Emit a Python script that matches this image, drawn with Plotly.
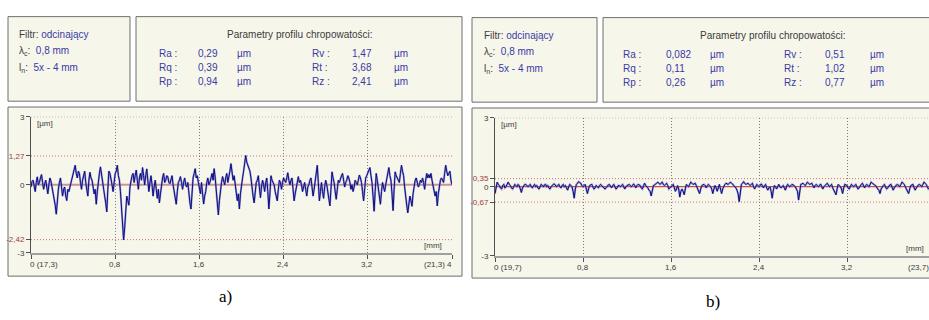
import plotly.graph_objects as go

# ---------------- data ----------------
STEP = 0.01  # sampling step of the profiles [mm]

profile_a = [
    -0.1, 0.15, 0.2, -0.1, -0.3, 0.1, 0.35, 0.0, 0.1, 0.3, 0.45, 0.1, -0.2, 0.05, 0.2, -0.1, -0.4, 0.0, 0.3, 0.15,
    -0.1, -0.3, -0.6, -0.9, -1.3, -0.6, -0.2, 0.1, 0.3, -0.1, -0.5, -0.2, -0.1, -0.5, -0.7, -0.2, -0.3, -0.1, 0.1, 0.35,
    0.5, 0.7, 0.86, 0.5, 0.3, 0.6, 0.5, 0.1, -0.2, 0.2, 0.4, 0.6, 0.1, -0.3, -0.5, 0.2, 0.55, 0.3, 0.2, -0.1,
    -0.4, -0.2, -0.86, -0.3, 0.2, 0.5, 0.79, 0.4, 0.1, -0.3, -0.5, -0.8, -1.2, -0.2, 0.6, 0.5, 0.3, 0.0, -0.3, 0.2,
    0.5, 0.6, 0.86, 0.4, 0.2, -0.3, -0.9, -1.5, -2.43, -1.9, -1.2, -0.5, -0.7, -0.9, -0.1, 0.2, 0.4, 0.5, 0.1, 0.4,
    0.65, 0.2, -0.2, 0.3, 0.5, 0.2, 0.76, 0.4, 0.0, 0.4, 0.7, 0.2, -0.3, 0.1, 0.4, 0.0, -0.5, -0.1, 0.2, -0.2,
    -0.6, -0.2, -0.8, -0.4, 0.1, 0.3, 0.5, 0.1, 0.2, 0.4, 0.35, 0.1, 0.05, 0.3, 0.4, 0.0, -0.3, -0.5, -0.86, -0.3,
    0.1, 0.2, 0.36, 0.1, -0.2, 0.1, 0.3, 0.0, -0.1, 0.1, -0.5, -0.8, -1.07, -0.3, 0.3, 0.5, 0.71, 0.3, 0.4, 0.1,
    -0.2, -0.4, 0.1, -0.3, -0.85, -0.5, -0.3, 0.1, 0.3, 0.0, 0.1, 0.3, 0.5, 0.2, 0.71, 0.3, -0.4, -0.9, -1.33, -0.7,
    -0.2, 0.1, 0.36, 0.2, 0.0, 0.3, 0.5, 0.1, 0.3, 0.6, 0.93, 0.5, 0.2, 0.4, 0.1, -0.2, -0.7, -0.4, -1.07, -0.4,
    0.1, 0.3, 0.6, 0.9, 1.29, 1.0, 0.86, 0.7, 0.6, 0.3, -0.2, -0.5, -0.8, -0.3, 0.1, 0.2, 0.4, -0.1, -0.57, -0.1,
    0.2, 0.0, -0.3, 0.1, 0.3, -0.3, -1.07, -0.4, 0.4, 0.2, 0.1, 0.0, -0.3, -0.5, -0.71, -0.2, 0.2, 0.1, -0.2, 0.1,
    0.3, 0.2, 0.1, 0.3, 0.53, 0.2, 0.0, 0.2, 0.3, -0.2, -0.71, -0.4, -0.1, 0.2, 0.36, 0.1, 0.2, 0.0, -0.3, -0.1,
    0.1, -0.2, -0.5, -0.1, 0.0, 0.2, 0.3, -0.1, -0.5, -0.2, 0.2, 0.5, 0.86, 0.1, -0.71, -0.3, 0.1, -0.3, -0.6, -0.1,
    0.2, 0.0, -0.3, -0.6, -0.93, -0.2, 0.57, 0.3, 0.1, -0.3, -0.64, -0.2, 0.2, 0.1, 0.3, 0.4, 0.5, 0.2, -0.1, 0.1,
    0.2, 0.4, 0.3, 0.1, -0.2, 0.0, -0.3, -0.1, 0.2, 0.1, 0.0, 0.2, 0.43, 0.3, 0.1, -0.3, -0.71, -0.2, 0.3, 0.4,
    0.5, 0.6, 0.76, 0.4, 0.1, -0.5, -1.17, -0.3, 0.5, 0.2, -0.2, -0.5, -0.86, -0.3, 0.1, -0.1, -0.3, 0.0, 0.3, 0.5,
    0.76, 0.4, 0.2, -0.4, -1.14, -0.2, 0.57, 0.4, 0.3, 0.2, 0.1, 0.5, 0.86, 0.6, 0.4, -0.1, -0.6, -0.9, -1.24, -0.8,
    -0.5, -0.7, -0.95, -0.4, 0.0, 0.2, 0.3, 0.1, -0.1, 0.0, 0.2, 0.1, 0.3, 0.1, -0.2, 0.2, 0.5, 0.3, 0.45, 0.3,
    0.5, 0.2, 0.0, -0.2, -0.5, -0.3, -0.93, -0.4, 0.0, 0.2, 0.3, 0.2, 0.1, 0.5, 0.86, 0.6, 0.4, 0.5, 0.6, 0.2,
    0.0,
]

profile_b = [
    -0.3, 0.0, 0.2, 0.1, 0.05, -0.05, -0.1, 0.05, 0.1, -0.05, 0.0, 0.1, 0.2, 0.1, 0.05, -0.05, -0.1, 0.0, 0.1, 0.05,
    0.0, 0.1, 0.05, -0.1, -0.25, -0.05, 0.05, 0.1, 0.1, 0.05, 0.0, 0.05, 0.1, 0.0, -0.05, 0.05, 0.1, 0.0, 0.05, -0.05,
    -0.1, 0.0, 0.1, 0.05, 0.0, 0.08, 0.1, 0.0, 0.05, -0.05, -0.1, 0.0, 0.08, 0.1, 0.12, 0.05, 0.0, 0.05, 0.1, 0.0,
    -0.05, 0.05, 0.1, 0.0, 0.05, -0.05, -0.15, 0.0, 0.1, 0.05, 0.0, -0.2, -0.5, -0.1, 0.1, 0.15, 0.22, 0.18, 0.15, 0.05,
    0.0, 0.05, 0.1, -0.1, -0.3, -0.1, 0.05, 0.08, 0.1, 0.0, -0.1, -0.05, 0.05, 0.0, -0.05, 0.05, 0.1, 0.05, 0.0, -0.05,
    -0.1, -0.05, 0.05, 0.08, 0.1, 0.0, -0.05, 0.05, 0.1, 0.0, -0.1, -0.05, 0.05, 0.05, 0.0, 0.05, 0.1, 0.0, -0.1, 0.0,
    0.05, 0.08, 0.1, 0.05, 0.0, 0.05, 0.12, 0.05, -0.05, 0.05, 0.1, 0.08, 0.05, -0.05, -0.1, 0.05, 0.15, 0.05, 0.0, -0.05,
    -0.15, -0.2, -0.4, -0.1, 0.05, 0.08, 0.1, 0.15, 0.2, 0.15, 0.1, 0.15, 0.2, 0.1, 0.05, 0.1, 0.15, 0.05, -0.1, -0.05,
    0.0, 0.05, 0.1, -0.05, -0.2, -0.1, 0.05, -0.1, -0.45, -0.2, -0.1, -0.2, -0.35, -0.1, 0.1, 0.05, 0.0, 0.1, 0.2, 0.15,
    0.1, 0.12, 0.15, 0.05, -0.1, -0.15, -0.3, -0.1, 0.05, 0.08, 0.1, 0.05, -0.05, 0.05, 0.1, 0.05, 0.0, -0.1, -0.3, -0.1,
    0.05, -0.05, -0.2, -0.05, 0.1, -0.1, -0.3, -0.1, 0.05, 0.1, 0.15, 0.12, 0.1, 0.15, 0.2, 0.15, 0.12, 0.05, 0.0, -0.05,
    -0.15, -0.3, -0.65, -0.2, 0.1, 0.15, 0.22, 0.15, 0.1, 0.12, 0.15, 0.1, 0.05, 0.1, 0.15, 0.0, -0.1, 0.0, 0.1, 0.05,
    0.0, 0.05, 0.12, 0.05, -0.05, 0.05, 0.1, -0.05, -0.15, -0.05, 0.0, -0.2, -0.5, -0.15, 0.05, 0.0, -0.1, 0.0, 0.1, 0.0,
    -0.05, 0.0, 0.05, -0.05, -0.15, 0.0, 0.1, 0.05, 0.0, 0.05, 0.1, 0.08, 0.05, 0.0, -0.1, -0.2, -0.58, -0.15, 0.1, 0.12,
    0.15, 0.1, 0.05, 0.12, 0.2, 0.15, 0.1, 0.12, 0.15, 0.05, -0.05, 0.05, 0.1, 0.05, 0.0, 0.05, 0.12, 0.0, -0.1, 0.0,
    0.05, 0.1, 0.15, 0.08, 0.0, 0.05, 0.1, -0.05, -0.15, -0.2, -0.35, -0.1, 0.1, 0.05, 0.0, -0.1, -0.3, -0.05, 0.1, 0.08,
    0.05, -0.05, -0.1, 0.0, 0.1, 0.05, 0.0, 0.05, 0.1, 0.0, -0.1, -0.05, 0.05, 0.1, 0.15, 0.05, -0.05, 0.05, 0.1, 0.05,
    0.0, 0.1, 0.2, 0.15, 0.1, 0.08, 0.05, -0.05, -0.1, -0.15, -0.3, -0.1, 0.0, 0.05, 0.1, 0.0, -0.1, -0.05, 0.05, 0.08,
    0.1, -0.05, -0.15, -0.05, 0.05, 0.08, 0.1, 0.05, 0.0, 0.1, 0.2, 0.15, 0.1, 0.0, -0.1, -0.15, -0.3, -0.1, 0.05, 0.08,
    0.1, -0.05, -0.15, -0.05, 0.05, 0.08, 0.1, 0.05, 0.0, 0.1, 0.2, 0.15, 0.1, 0.0, -0.1, -0.05, 0.05, 0.08, 0.1, 0.05,
    0.0,
]

x_a = [round(STEP * i, 2) for i in range(len(profile_a))]
x_b = [round(STEP * i, 2) for i in range(len(profile_b))]

x_ticks = [0, 0.8, 1.6, 2.4, 3.2, 4.0]
x_ticklabels_a = ["0 (17,3)", "0,8", "1,6", "2,4", "3,2", "(21,3) 4"]
x_ticklabels_b = ["0 (19,7)", "0,8", "1,6", "2,4", "3,2", "(23,7) 4"]

ref_lines_a = [1.27, -2.42]     # upper / lower reference lines
ref_labels_a = ["1,27", "-2,42"]
ref_lines_b = [0.35, -0.67]
ref_labels_b = ["0,35", "-0,67"]

filter_name = "odcinający"
lambda_c = "0,8 mm"
l_n = "5x - 4 mm"

param_names_left = ["Ra :", "Rq :", "Rp :"]
param_names_right = ["Rv :", "Rt :", "Rz :"]
params_a_left = ["0,29", "0,39", "0,94"]
params_a_right = ["1,47", "3,68", "2,41"]
params_b_left = ["0,082", "0,11", "0,26"]
params_b_right = ["0,51", "1,02", "0,77"]
unit = "µm"

# ---------------- styling ----------------
W, H = 929, 320
CREAM = "#f6f6ea"
BORDER = "#6e6e6e"
BLUE_TXT = "#3a3aa6"
GRAY_TXT = "#3c3c3c"
RED_TXT = "#a03c3c"
FONT = "Liberation Sans, Arial, sans-serif"
DOT = "1px,2px"


def px(x):
    return x / W


def py(y):
    return 1 - y / H


fig = go.Figure()

panels = [
    dict(x=x_a, y=profile_a, xa="x", ya="y", refs=ref_lines_a, reflab=ref_labels_a,
         xlab=x_ticklabels_a, zero_col="#c89494", zero_w=2,
         xdom=[px(31), px(452)], xr=[0, 4], ydom=[py(256), py(116)],
         x0px=31, mmpx=105.0, xlab_y=268,
         frame=(8, 106, 462, 280), box1=(8, 13, 130, 100), box2=(136, 13, 462, 100),
         txt_x=17, rows_y=(31, 48, 66),
         title_x=300, title_y=31, prow_y=(51, 65, 80),
         cols=(157, 196, 235, 310, 350, 392),
         pl=params_a_left, pr=params_a_right),
    dict(x=x_b, y=profile_b, xa="x2", ya="y2", refs=ref_lines_b, reflab=ref_labels_b,
         xlab=x_ticklabels_b, zero_col="#c02020", zero_w=1,
         xdom=[px(495), 1.0], xr=[0, (929 - 495) / 110.0], ydom=[py(259), py(117)],
         x0px=495, mmpx=110.0, xlab_y=271,
         frame=(472, 107, 940, 282), box1=(472, 14, 597, 101), box2=(603, 14, 940, 101),
         txt_x=482, rows_y=(32, 49, 67),
         title_x=773, title_y=32, prow_y=(52, 66, 81),
         cols=(621, 664, 708, 782, 823, 868),
         pl=params_b_left, pr=params_b_right),
]

shapes = []
annotations = []

for i, p in enumerate(panels):
    sfx = "" if i == 0 else "2"
    # frames and boxes (paper)
    for (x0, y0, x1, y1) in (p["frame"], p["box1"], p["box2"]):
        shapes.append(dict(type="rect", xref="paper", yref="paper",
                           x0=px(x0), x1=px(x1), y0=py(y1), y1=py(y0),
                           fillcolor=CREAM, line=dict(color=BORDER, width=1),
                           layer="below"))
    # top dotted grid line at y=3
    shapes.append(dict(type="line", xref=p["xa"], yref=p["ya"], x0=0, x1=4, y0=3, y1=3,
                       line=dict(color="#7c7c7c", width=1, dash=DOT), layer="below"))
    # reference lines
    for v in p["refs"]:
        shapes.append(dict(type="line", xref=p["xa"], yref=p["ya"], x0=0, x1=4, y0=v, y1=v,
                           line=dict(color="#c87070", width=1, dash=DOT), layer="below"))
    # zero (mean) line
    shapes.append(dict(type="line", xref=p["xa"], yref=p["ya"], x0=0, x1=4, y0=0, y1=0,
                       line=dict(color=p["zero_col"], width=p["zero_w"]), layer="below"))

    # profile traces (soft halo + dark line)
    fig.add_trace(go.Scatter(x=p["x"], y=p["y"], mode="lines", xaxis=p["xa"], yaxis=p["ya"],
                             line=dict(color="rgba(120,120,200,0.7)", width=2.0),
                             hoverinfo="skip", showlegend=False))
    fig.add_trace(go.Scatter(x=p["x"], y=p["y"], mode="lines", xaxis=p["xa"], yaxis=p["ya"],
                             line=dict(color="#0c0c84", width=1),
                             showlegend=False))

    yticks = [3, p["refs"][0], 0, p["refs"][1], -3]
    ytext = ["3", '<span style="color:%s">%s</span>' % (RED_TXT, p["reflab"][0]), "0",
             '<span style="color:%s">%s</span>' % (RED_TXT, p["reflab"][1]), "-3"]

    fig.update_layout(**{
        "xaxis" + sfx: dict(domain=p["xdom"], range=p["xr"], anchor="y" + sfx,
                            tickvals=x_ticks, showticklabels=False, ticks="outside",
                            ticklen=4, tickcolor="#505050", tickwidth=1,
                            showline=True, linecolor="#a0a0a0", linewidth=2,
                            showgrid=True, gridcolor="#7c7c7c", griddash=DOT, gridwidth=1,
                            zeroline=False, fixedrange=True),
        "yaxis" + sfx: dict(domain=p["ydom"], range=[-3, 3], anchor="x" + sfx,
                            tickvals=yticks, ticktext=ytext, ticks="outside", ticklen=4,
                            tickcolor="#505050", showline=True, linecolor="#505050",
                            linewidth=1, showgrid=False, zeroline=False,
                            tickfont=dict(family=FONT, size=8, color=GRAY_TXT),
                            fixedrange=True),
    })

    # x tick labels (paper positions derived from the axis scale of each panel)
    for k, (xv, lab) in enumerate(zip(x_ticks, p["xlab"])):
        if k == 0:
            anc, sh = "left", -3
        elif k == len(x_ticks) - 1:
            anc, sh = "right", 3
        else:
            anc, sh = "center", 0
        annotations.append(dict(x=px(p["x0px"] + xv * p["mmpx"]), y=py(p["xlab_y"]),
                                xref="paper", yref="paper",
                                text=lab, showarrow=False, xanchor=anc, yanchor="middle",
                                xshift=sh, font=dict(family=FONT, size=8, color=GRAY_TXT)))
    # axis unit labels
    annotations.append(dict(x=0.04, y=2.7, xref=p["xa"], yref=p["ya"], text="[µm]",
                            showarrow=False, xanchor="left", yanchor="middle",
                            font=dict(family=FONT, size=8, color=GRAY_TXT)))
    annotations.append(dict(x=3.82, y=-2.68, xref=p["xa"], yref=p["ya"], text="[mm]",
                            showarrow=False, xanchor="center", yanchor="middle",
                            font=dict(family=FONT, size=8, color=GRAY_TXT)))

    # filter box texts
    tx = p["txt_x"]
    r1, r2, r3 = p["rows_y"]
    annotations.append(dict(x=px(tx), y=py(r1), xref="paper", yref="paper", showarrow=False,
                            xanchor="left", yanchor="middle",
                            text='Filtr: <span style="color:%s">%s</span>' % (BLUE_TXT, filter_name),
                            font=dict(family=FONT, size=10, color=GRAY_TXT)))
    annotations.append(dict(x=px(tx), y=py(r2), xref="paper", yref="paper", showarrow=False,
                            xanchor="left", yanchor="middle",
                            text='λ<sub>c</sub>:  <span style="color:%s">%s</span>' % (BLUE_TXT, lambda_c),
                            font=dict(family=FONT, size=10, color=GRAY_TXT)))
    annotations.append(dict(x=px(tx), y=py(r3), xref="paper", yref="paper", showarrow=False,
                            xanchor="left", yanchor="middle",
                            text='l<sub>n</sub>:  <span style="color:%s">%s</span>' % (BLUE_TXT, l_n),
                            font=dict(family=FONT, size=10, color=GRAY_TXT)))

    # parameter box
    annotations.append(dict(x=px(p["title_x"]), y=py(p["title_y"]), xref="paper", yref="paper",
                            showarrow=False, xanchor="center", yanchor="middle",
                            text="Parametry profilu chropowatości:",
                            font=dict(family=FONT, size=10, color=GRAY_TXT)))
    c = p["cols"]
    for r, yy in enumerate(p["prow_y"]):
        for cx, t in ((c[0], param_names_left[r]), (c[1], p["pl"][r]), (c[2], unit),
                      (c[3], param_names_right[r]), (c[4], p["pr"][r]), (c[5], unit)):
            annotations.append(dict(x=px(cx), y=py(yy), xref="paper", yref="paper",
                                    showarrow=False, xanchor="left", yanchor="middle", text=t,
                                    font=dict(family=FONT, size=10, color=BLUE_TXT)))

# captions
annotations.append(dict(x=px(225), y=py(301), xref="paper", yref="paper", text="a)",
                        showarrow=False, xanchor="center", yanchor="middle",
                        font=dict(family="Liberation Serif, Times New Roman, serif", size=17,
                                  color="#000000")))
annotations.append(dict(x=px(713), y=py(306), xref="paper", yref="paper", text="b)",
                        showarrow=False, xanchor="center", yanchor="middle",
                        font=dict(family="Liberation Serif, Times New Roman, serif", size=17,
                                  color="#000000")))

fig.update_layout(width=W, height=H, margin=dict(l=0, r=0, t=0, b=0),
                  paper_bgcolor="#ffffff", plot_bgcolor="rgba(0,0,0,0)",
                  shapes=shapes, annotations=annotations, showlegend=False,
                  font=dict(family=FONT, size=10, color=GRAY_TXT))

fig.write_html("out.html", config={"displayModeBar": False})
